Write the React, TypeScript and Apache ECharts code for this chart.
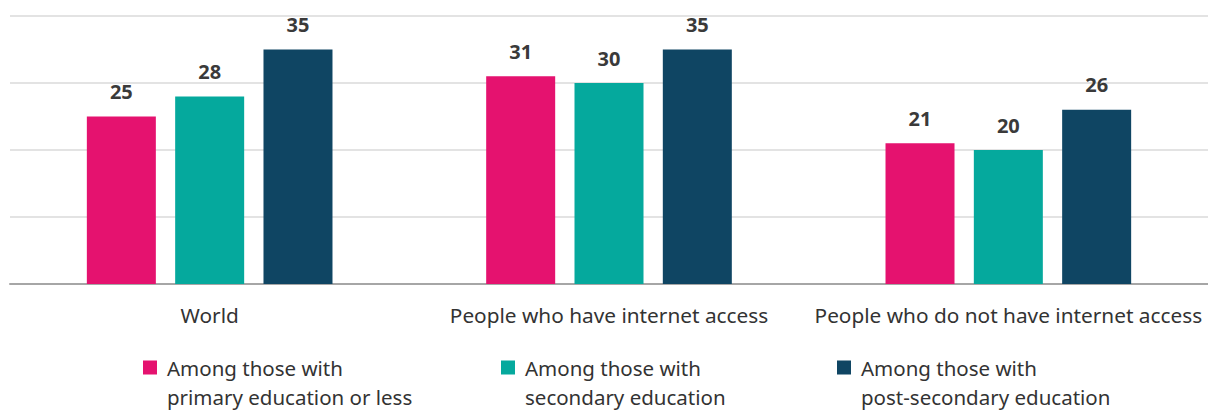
import React, { useEffect, useRef } from "react";
import * as echarts from "echarts";

const categories = ["World", "People who have internet access", "People who do not have internet access"];
const seriesNames = [
  "Among those with\nprimary education or less",
  "Among those with\nsecondary education",
  "Among those with\npost-secondary education",
];
const primary = [25, 31, 21];
const secondary = [28, 30, 20];
const postSecondary = [35, 35, 26];
const colors = ["#E5126F", "#05A99D", "#0F4563"];

const FONT = "'Noto Sans', sans-serif";

export default function App() {
  const ref = useRef<HTMLDivElement>(null);
  useEffect(() => {
    if (!ref.current) return;
    const chart = echarts.init(ref.current, undefined, { renderer: "svg" });
    const values = [primary, secondary, postSecondary];
    const legendLefts = [143, 501, 837];
    chart.setOption({
      animation: false,
      textStyle: { fontFamily: FONT },
      grid: { left: 10, right: 0, top: 16, bottom: 126 },
      xAxis: {
        type: "category",
        data: categories,
        axisTick: { show: false },
        axisLine: { lineStyle: { color: "#A6A6A6", width: 2 } },
        axisLabel: { color: "#333333", fontSize: 20.8, fontFamily: FONT, margin: 20, interval: 0 },
      },
      yAxis: {
        type: "value",
        min: 0,
        max: 40,
        interval: 10,
        axisLabel: { show: false },
        axisLine: { show: false },
        axisTick: { show: false },
        splitLine: { lineStyle: { color: "#E3E3E3", width: 2 } },
      },
      legend: seriesNames.map((n, i) => ({
        data: [n],
        left: legendLefts[i],
        top: 324,
        padding: 0,
        orient: "horizontal",
        itemWidth: 19,
        itemHeight: 14,
        itemGap: 0,
        icon: "path://M0 0H14V14H0Z M19 14H19.01V14.01H19Z",
        selectedMode: false,
        formatter: (name: string) => "\n" + name,
        textStyle: {
          color: "#333333",
          fontSize: 20.5,
          fontFamily: FONT,
          lineHeight: 29,
        },
      })),
      series: seriesNames.map((n, i) => ({
        type: "bar",
        name: n,
        data: values[i],
        barWidth: 69,
        barGap: "28%",
        itemStyle: { color: colors[i] },
        label: {
          show: true,
          position: "top",
          distance: 15,
          color: "#3A3A3A",
          fontSize: 20,
          fontWeight: "bold",
          fontFamily: FONT,
        },
      })),
    });
    return () => chart.dispose();
  }, []);
  return (
    <div
      ref={ref}
      style={{ position: "fixed", left: 0, top: 0, width: 1208, height: 410, background: "#fff" }}
    />
  );
}
